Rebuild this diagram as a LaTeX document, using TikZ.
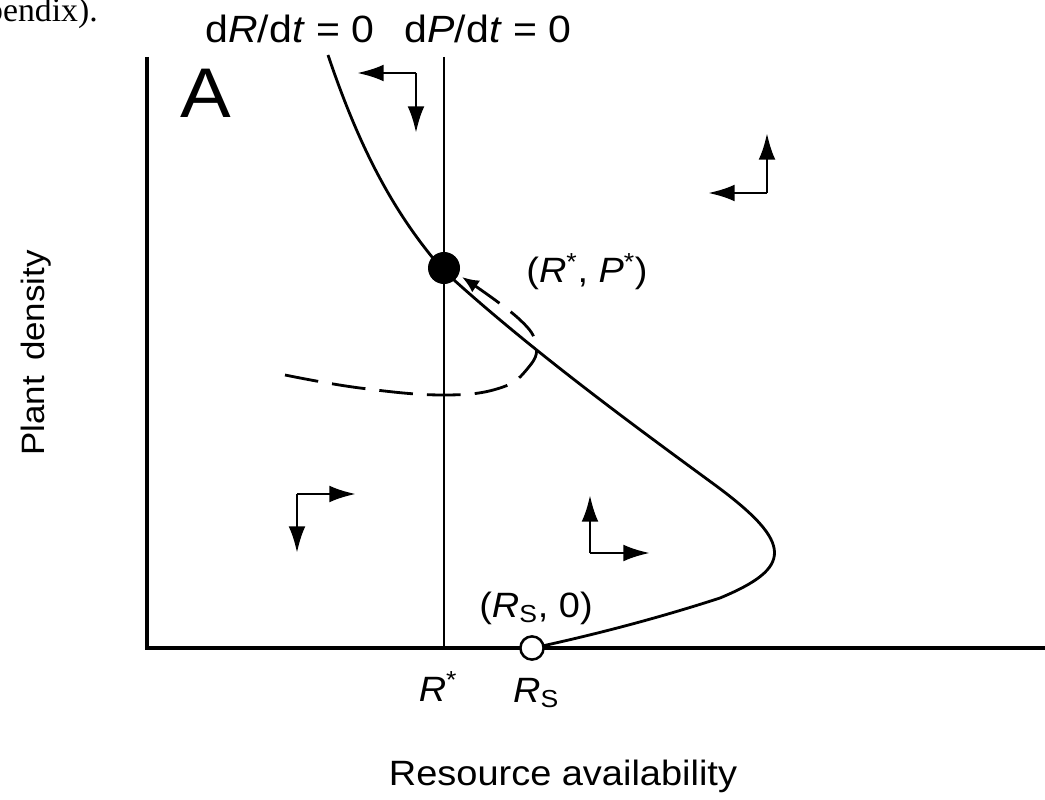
\documentclass[tikz,border=0pt]{standalone}
\usepackage{fontspec}
\setmainfont[FakeStretch=1.08]{Liberation Sans}
\newfontfamily\bodyserif{Liberation Serif}
\usetikzlibrary{arrows.meta}

\begin{document}
\begin{tikzpicture}[x=0.025cm, y=-0.025cm,
  font=\fontsize{25}{30}\selectfont,
  axis/.style={line width=3.4pt},
  nullcline/.style={line width=2pt},
  trajectory/.style={line width=2pt, dash pattern=on 24pt off 10pt,
    -{Latex[length=12pt,width=10pt]}},
  trend/.style={-{Latex[length=19pt,width=12pt]}, line width=2.1pt},
  eqdot/.style={circle, fill=black, inner sep=0pt, minimum size=0.8cm},
  opendot/.style={circle, draw=black, fill=white, line width=1.8pt,
    inner sep=0pt, minimum size=0.58cm},
  tag/.style={inner sep=0pt}
]
\useasboundingbox (0,0) rectangle (1045,800);

% cut-off caption text from the page above
\node[tag, anchor=base east, font=\bodyserif\fontsize{24}{28}\selectfont]
  (caption) at (98,22) {pendix).};

% axes
\draw[axis] (147,57) -- (147,648) -- (1045,648);

% nullclines
\draw[nullcline] (444,57) -- (444,648);
\draw[nullcline] (328,55) .. controls (360,150) and (395,215) .. (443,270)
  .. controls (530,350) and (640,430) .. (715,485)
  .. controls (795,544) and (792,568) .. (720,598)
  .. controls (640,624) and (570,640) .. (533,648);

% damped trajectory into the equilibrium
\draw[trajectory] plot[smooth, tension=0.7] coordinates {(285,375) (360,388)
  (443,395) (500,388) (528,368) (536,345) (518,318) (462,277)};

\node[eqdot] (Eq) at (444,268) {};
\node[opendot] (Rs) at (532,648) {};

% direction of change in each region
\draw[trend] (416,73) -- (357,73);
\draw[trend] (416,73) -- (416,133);
\draw[trend] (767,193) -- (767,133);
\draw[trend] (767,193) -- (708,193);
\draw[trend] (297,494) -- (356,494);
\draw[trend] (297,494) -- (297,553);
\draw[trend] (590,553) -- (590,495);
\draw[trend] (590,553) -- (650,553);

% labels
\node[tag, anchor=base] (panel) at (206,118) {\fontsize{50}{56}\selectfont A};
\node[tag, anchor=base, font=\fontsize{27}{30}\selectfont] (Rnull)
  at (290,43) {d\textit{R}/d\textit{t} = 0};
\node[tag, anchor=base, font=\fontsize{27}{30}\selectfont] (Pnull)
  at (488,43) {d\textit{P}/d\textit{t} = 0};
\node[tag, anchor=base] (EqLabel) at (587,283)
  {(\textit{R}\textsuperscript{*}, \textit{P}\textsuperscript{*})};
\node[tag, anchor=base] (RsLabel) at (536,617) {(\textit{R}\textsubscript{S}, 0)};
\node[tag, anchor=base] (Rstar) at (438,701) {\textit{R}\textsuperscript{*}};
\node[tag, anchor=base] (RsTick) at (536,702) {\textit{R}\textsubscript{S}};
\node[tag, rotate=90, font=\fontsize{23}{28}\selectfont] (ylabel)
  at (36,353) {Plant\,\ density};
\node[tag, anchor=base] (xlabel) at (563,785) {Resource availability};
\end{tikzpicture}
\end{document}
